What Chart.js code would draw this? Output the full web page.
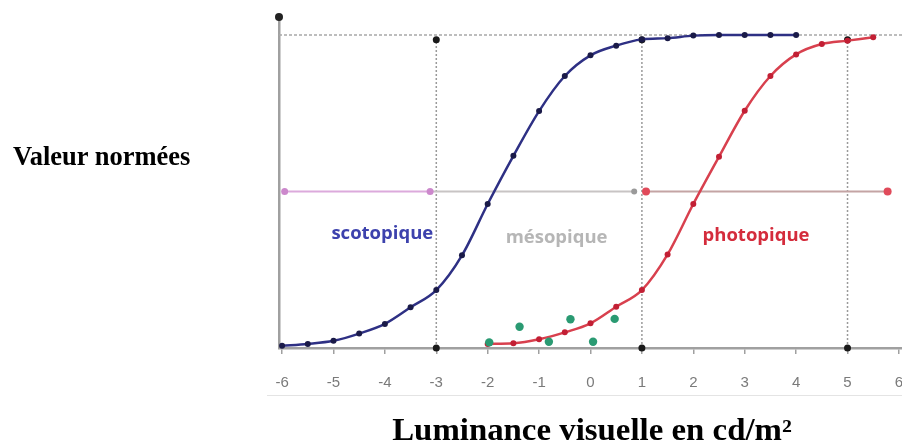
<!DOCTYPE html>
<html>
<head>
<meta charset="utf-8">
<script src="https://cdn.jsdelivr.net/npm/chart.js@4/dist/chart.umd.min.js"></script>
<style>
  html, body { margin: 0; padding: 0; background: #fff; }
  #wrap { position: relative; width: 902px; height: 443px; overflow: hidden; }
  #c { position: absolute; left: 0; top: 0; }
  .title { position: absolute; font-family: "Liberation Serif", "Times New Roman", serif; font-weight: bold; color: #000; white-space: nowrap; line-height: 1; }
  #ytitle { left: 13px; top: 143px; font-size: 26.5px; }
  #xtitle { left: 592px; top: 414px; font-size: 31px; transform: translateX(-50%) scaleX(1.06); }
  #frame { position: absolute; left: 267px; top: 395px; width: 635px; height: 1px; background: #e4e4e4; }
</style>
</head>
<body>
<div id="wrap">
  <canvas id="c" width="902" height="443"></canvas>
  <div id="frame"></div>
  <div class="title" id="ytitle">Valeur normées</div>
  <div class="title" id="xtitle">Luminance visuelle en cd/m²</div>
</div>
<script>
// log10 of luminance (cd/m²)
const xTicks = [-6, -5, -4, -3, -2, -1, 0, 1, 2, 3, 4, 5, 6];

// scotopic response (rods)
const scotoX = [-6, -5.5, -5, -4.5, -4, -3.5, -3, -2.5, -2, -1.5, -1, -0.5, 0, 0.5, 1, 1.5, 2, 2.5, 3, 3.5, 4];
const scotoY = [0.007, 0.013, 0.023, 0.046, 0.077, 0.13, 0.185, 0.296, 0.46, 0.614, 0.757, 0.869, 0.935, 0.966, 0.986, 0.99, 0.998, 1.0, 1.0, 1.0, 1.0];

// photopic response (cones)
const photoX = [-2, -1.5, -1, -0.5, 0, 0.5, 1, 1.5, 2, 2.5, 3, 3.5, 4, 4.5, 5, 5.5];
const photoY = [0.013, 0.015, 0.028, 0.05, 0.079, 0.132, 0.185, 0.299, 0.46, 0.611, 0.758, 0.869, 0.938, 0.971, 0.982, 0.993];

// mesopic measurements
const mesoX = [-1.97, -1.38, -0.81, -0.39, 0.05, 0.47];
const mesoY = [0.018, 0.068, 0.02, 0.092, 0.02, 0.093];

// domain limits and the reference levels
const limitsX = [-3, 1, 5];
const limitTop = 0.985;
const fullLevel = 1.0;
const halfLevel = 0.5;
const scotoRange = [-5.95, -3.12];
const mesoRange = [-3.12, 0.85];
const photoRange = [1.08, 5.78];

const zoneLabels = [
  { text: 'scotopique', x: -4.05, y: 0.364, color: '#3d42ad' },
  { text: 'mésopique', x: -0.66, y: 0.352, color: '#b6b6b6' },
  { text: 'photopique', x: 3.22, y: 0.358, color: '#d42c3c' }
];

const X_MIN = -6.06, X_MAX = 6.06, Y_MIN = 0, Y_MAX = 1.0575;

const pts = (xs, ys) => xs.map((x, i) => ({ x: x, y: ys[i] }));

const datasets = [];

// dotted frame line at full level
datasets.push({
  data: [{ x: X_MIN, y: fullLevel }, { x: X_MAX, y: fullLevel }],
  showLine: true,
  borderColor: '#a8a8a8', borderWidth: 1.5, borderDash: [3, 2],
  pointRadius: 0, clip: false, order: 10
});

// dotted boundaries between domains
limitsX.forEach(v => {
  datasets.push({
    data: [{ x: v, y: 0 }, { x: v, y: limitTop }],
    showLine: true,
    borderColor: '#9a9a9a', borderWidth: 1.5, borderDash: [2, 2],
    pointRadius: 3.5, pointBackgroundColor: '#1a1a1a', pointBorderWidth: 0,
    clip: false, order: 9
  });
});

// half-level domain lines
datasets.push({
  data: [{ x: scotoRange[0], y: halfLevel }, { x: scotoRange[1], y: halfLevel }],
  showLine: true,
  borderColor: '#dcaadc', borderWidth: 2,
  pointRadius: 3.5, pointBackgroundColor: '#cc88cc', pointBorderWidth: 0,
  clip: false, order: 8
});
datasets.push({
  data: [{ x: mesoRange[0], y: halfLevel }, { x: mesoRange[1], y: halfLevel }],
  showLine: true,
  borderColor: '#c8c4c4', borderWidth: 2,
  pointRadius: [0, 3], pointBackgroundColor: '#9a9a9a', pointBorderWidth: 0,
  clip: false, order: 8
});
datasets.push({
  data: [{ x: photoRange[0], y: halfLevel }, { x: photoRange[1], y: halfLevel }],
  showLine: true,
  borderColor: '#c4a4a4', borderWidth: 2,
  pointRadius: 4, pointBackgroundColor: '#e04a5a', pointBorderWidth: 0,
  clip: false, order: 8
});

// y axis arrow head
datasets.push({
  data: [{ x: X_MIN, y: Y_MAX }],
  pointRadius: 4, pointBackgroundColor: '#222', pointBorderWidth: 0,
  showLine: false, clip: false, order: 7
});

// curves
datasets.push({
  label: 'scotopique',
  data: pts(scotoX, scotoY),
  showLine: true,
  borderColor: '#2e3084', borderWidth: 2.5, tension: 0.4, cubicInterpolationMode: 'monotone',
  pointRadius: 3, pointBackgroundColor: '#1a1a48', pointBorderWidth: 0,
  clip: false, order: 2
});
datasets.push({
  label: 'photopique',
  data: pts(photoX, photoY),
  showLine: true,
  borderColor: '#d8404e', borderWidth: 2.5, tension: 0.4, cubicInterpolationMode: 'monotone',
  pointRadius: 3, pointBackgroundColor: '#c21f34', pointBorderWidth: 0,
  clip: false, order: 2
});
datasets.push({
  label: 'mésopique',
  data: pts(mesoX, mesoY),
  showLine: false,
  pointRadius: 4.2, pointBackgroundColor: '#2a9a72', pointBorderWidth: 0,
  clip: false, order: 1
});

const zoneText = {
  id: 'zoneText',
  afterDatasetsDraw(chart) {
    const { ctx, scales } = chart;
    ctx.save();
    ctx.font = 'bold 18.5px "Open Sans", "DejaVu Sans", sans-serif';
    ctx.textAlign = 'center';
    ctx.textBaseline = 'middle';
    zoneLabels.forEach(l => {
      ctx.fillStyle = l.color;
      ctx.fillText(l.text, scales.x.getPixelForValue(l.x), scales.y.getPixelForValue(l.y));
    });
    ctx.restore();
  }
};

new Chart(document.getElementById('c'), {
  type: 'scatter',
  data: { datasets: datasets },
  options: {
    responsive: false,
    animation: false,
    events: [],
    layout: { autoPadding: false, padding: { left: 279, right: 0, top: 17, bottom: 50 } },
    plugins: { legend: { display: false }, tooltip: { enabled: false } },
    elements: { line: { fill: false } },
    scales: {
      x: {
        type: 'linear', min: X_MIN, max: X_MAX,
        afterBuildTicks: s => { s.ticks = xTicks.map(v => ({ value: v })); },
        afterFit: s => { s.height = 45; s.paddingLeft = 0; s.paddingRight = 0; },
        border: { display: true, color: '#a0a0a0', width: 2.5 },
        grid: { display: true, drawOnChartArea: false, drawTicks: true, tickLength: 6, color: '#a0a0a0', lineWidth: 1.5 },
        ticks: { color: '#7a7a7a', padding: 20, font: { family: '"Liberation Sans", Arial, sans-serif', size: 15 } }
      },
      y: {
        type: 'linear', min: Y_MIN, max: Y_MAX,
        afterFit: s => { s.width = 0; s.paddingTop = 0; s.paddingBottom = 0; },
        border: { display: true, color: '#a0a0a0', width: 2.5 },
        grid: { display: false },
        ticks: { display: false }
      }
    }
  },
  plugins: [zoneText]
});
</script>
</body>
</html>
